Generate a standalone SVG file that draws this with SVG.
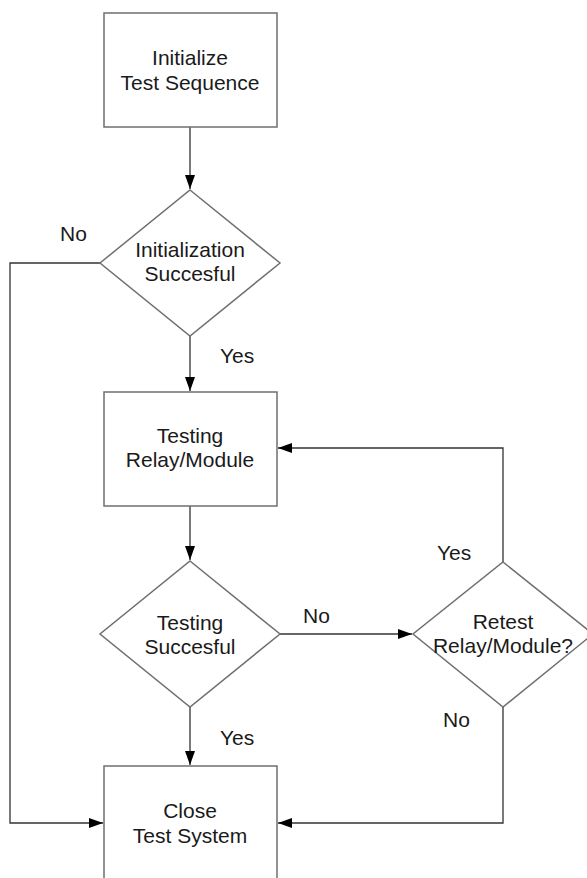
<svg xmlns="http://www.w3.org/2000/svg" width="587" height="878" viewBox="0 0 587 878">
<style>
.node{fill:#fff;stroke:#6f6f6f;stroke-width:1.5}
.t{font-family:"Liberation Sans",Arial,sans-serif;font-size:21px;fill:#1a1a1a;text-anchor:middle}
.l{font-family:"Liberation Sans",Arial,sans-serif;font-size:21px;fill:#1a1a1a}
.c{fill:none;stroke:#333;stroke-width:1.3}
</style>
<defs>
<marker id="ah" viewBox="0 0 14 10" refX="14" refY="5" markerWidth="14" markerHeight="10" markerUnits="userSpaceOnUse" orient="auto">
<path d="M0,0 L14,5 L0,10 Z" fill="#000"/>
</marker>
</defs>
<rect width="587" height="878" fill="#fff"/>
<g id="connectors">
<path class="c" d="M190,127 V189" marker-end="url(#ah)"/>
<path class="c" d="M100,263 H10 V823 H103" marker-end="url(#ah)"/>
<path class="c" d="M190,336 V391" marker-end="url(#ah)"/>
<path class="c" d="M190,506 V560" marker-end="url(#ah)"/>
<path class="c" d="M280,634 H412" marker-end="url(#ah)"/>
<path class="c" d="M503,562 V448 H278" marker-end="url(#ah)"/>
<path class="c" d="M190,707 V765" marker-end="url(#ah)"/>
<path class="c" d="M503,707 V823 H278" marker-end="url(#ah)"/>
<text class="l" x="60" y="241">No</text>
<text class="l" x="220" y="363">Yes</text>
<text class="l" x="303" y="623">No</text>
<text class="l" x="437" y="560">Yes</text>
<text class="l" x="443" y="727">No</text>
<text class="l" x="220" y="745">Yes</text>
</g>
<g id="init">
<rect class="node" x="104" y="13" width="173" height="114"/>
<text class="t" x="190" y="65">Initialize</text>
<text class="t" x="190" y="90">Test Sequence</text>
</g>
<g id="initOk">
<path class="node" d="M190,190 L280,263 L190,336 L100,263 Z"/>
<text class="t" x="190" y="257">Initialization</text>
<text class="t" x="190" y="281">Succesful</text>
</g>
<g id="testing">
<rect class="node" x="104" y="392" width="173" height="114"/>
<text class="t" x="190" y="443">Testing</text>
<text class="t" x="190" y="467">Relay/Module</text>
</g>
<g id="testOk">
<path class="node" d="M190,561 L280,634 L190,707 L100,634 Z"/>
<text class="t" x="190" y="630">Testing</text>
<text class="t" x="190" y="654">Succesful</text>
</g>
<g id="retest">
<path class="node" d="M503,562 L593,634 L503,707 L413,634 Z"/>
<text class="t" x="503" y="629">Retest</text>
<text class="t" x="503" y="653">Relay/Module?</text>
</g>
<g id="close">
<rect class="node" x="104" y="766" width="173" height="114"/>
<text class="t" x="190" y="818">Close</text>
<text class="t" x="190" y="843">Test System</text>
</g>
</svg>
